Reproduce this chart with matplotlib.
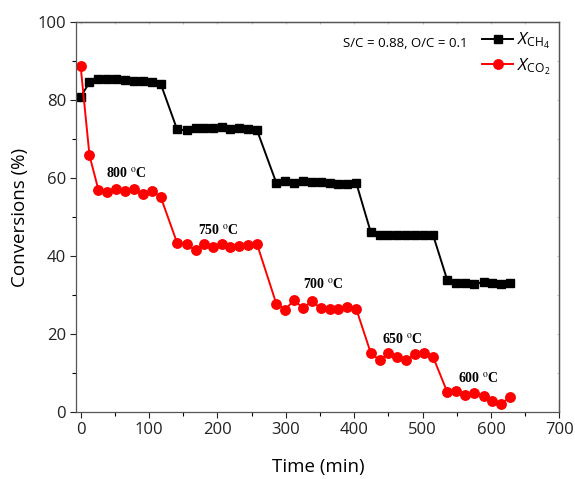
import numpy as np
import matplotlib.pyplot as plt
from matplotlib.ticker import MultipleLocator

# datos
t_ch4 = [0, 13, 26, 39, 52, 65, 78, 91, 104, 117,
         141, 155, 168, 181, 194, 207, 219, 232, 245, 258,
         286, 299, 312, 325, 338, 351, 364, 377, 390, 403,
         424, 437, 450, 463, 476, 489, 502, 515,
         536, 549, 562, 575, 589, 602, 615, 628]
x_ch4 = [80.8, 84.5, 85.5, 85.3, 85.5, 85.2, 84.8, 84.8, 84.5, 84.2,
         72.5, 72.2, 72.8, 72.8, 72.8, 73.0, 72.5, 72.8, 72.5, 72.2,
         58.8, 59.2, 58.8, 59.2, 59.0, 59.0, 58.8, 58.5, 58.5, 58.7,
         46.2, 45.5, 45.5, 45.5, 45.5, 45.5, 45.5, 45.5,
         33.8, 33.0, 33.0, 32.8, 33.3, 33.1, 32.8, 33.0]

t_co2 = t_ch4
x_co2 = [88.8, 65.8, 57.0, 56.5, 57.3, 56.7, 57.2, 56.0, 56.7, 55.2,
         43.4, 43.0, 41.5, 43.0, 42.3, 43.1, 42.3, 42.5, 42.8, 43.0,
         27.8, 26.2, 28.7, 26.6, 28.4, 26.6, 26.4, 26.3, 27.0, 26.4,
         15.2, 13.2, 15.0, 14.2, 13.3, 14.8, 15.2, 14.2,
         5.1, 5.4, 4.4, 4.8, 4.2, 2.8, 2.1, 3.9]

temp_labels = ['800', '750', '700', '650', '600']
temp_t = [67, 202, 355, 471, 582]
temp_y = [61.3, 46.7, 32.8, 18.7, 8.7]

plt.rcParams['font.family'] = ['Open Sans', 'DejaVu Sans']
plt.rcParams['mathtext.fontset'] = 'custom'
plt.rcParams['mathtext.rm'] = 'Open Sans'
plt.rcParams['mathtext.it'] = 'Open Sans:italic'

fig = plt.figure(figsize=(5.75, 4.79), dpi=100)
ax = fig.add_axes([0.133, 0.140, 0.840, 0.814])

ax.plot(t_ch4, x_ch4, color='black', marker='s', markersize=6.3, linewidth=1.4,
        label=r'$X_{\mathrm{CH_4}}$')
ax.plot(t_co2, x_co2, color='red', marker='o', markersize=6.8, linewidth=1.4,
        label=r'$X_{\mathrm{CO_2}}$')

for lab, tt, yy in zip(temp_labels, temp_t, temp_y):
    ax.text(tt, yy, lab + r' $^{\rm o}$C', ha='center', va='center',
            fontsize=10, fontweight='bold', family='Liberation Serif',
            math_fontfamily='stix')

ax.set_xlim(-6, 700)
ax.set_ylim(0, 100)
ax.xaxis.set_major_locator(MultipleLocator(100))
ax.xaxis.set_minor_locator(MultipleLocator(50))
ax.yaxis.set_major_locator(MultipleLocator(20))
ax.yaxis.set_minor_locator(MultipleLocator(10))
ax.tick_params(which='major', direction='out', length=4, width=0.8,
               labelsize=12, colors='#222222')
ax.tick_params(which='minor', direction='out', length=3, width=0.8)
ax.tick_params(axis='x', pad=3)

# ticks pequeños hacia dentro arriba y a la derecha
ax_top = ax.secondary_xaxis('top')
ax_top.xaxis.set_major_locator(MultipleLocator(50))
ax_top.tick_params(direction='in', length=1.5, width=0.5, labeltop=False,
                   colors='#aaaaaa')
ax_right = ax.secondary_yaxis('right')
ax_right.yaxis.set_major_locator(MultipleLocator(10))
ax_right.tick_params(direction='in', length=1.5, width=0.5, labelright=False,
                     colors='#aaaaaa')
for a in (ax, ax_top, ax_right):
    for sp in a.spines.values():
        sp.set_color('#555555')
        sp.set_linewidth(0.9)

ax.set_xlabel('Time (min)', fontsize=13.5, labelpad=15)
ax.set_ylabel('Conversions (%)', fontsize=13.5, labelpad=6)

leg = ax.legend(loc='upper right', frameon=False, fontsize=12.5,
                handlelength=1.75, handletextpad=0.25, labelspacing=0.3,
                borderaxespad=0.1, bbox_to_anchor=(1.0, 1.0))
ax.text(0.81, 0.946, 'S/C = 0.88, O/C = 0.1', transform=ax.transAxes,
        ha='right', va='center', fontsize=9.5)

fig.savefig('out.png', dpi=100)
